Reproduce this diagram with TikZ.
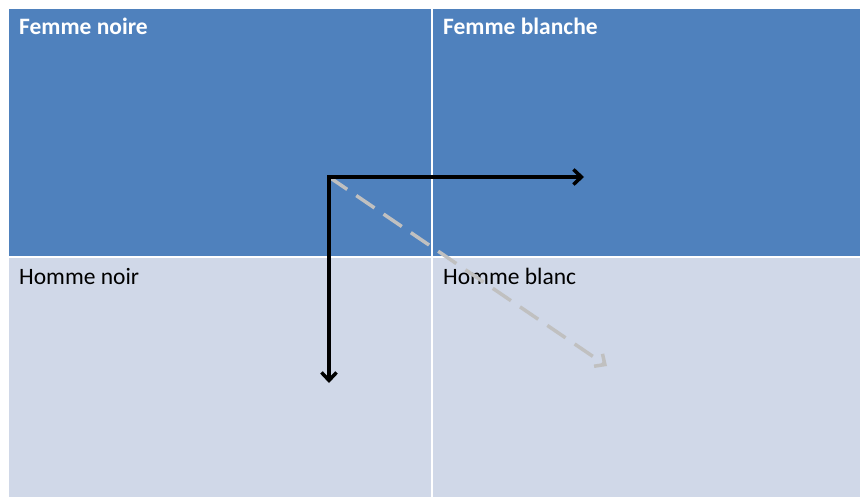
\documentclass[tikz,border=0pt]{standalone}
\usepackage{fontspec}
\setmainfont{Carlito}
\usetikzlibrary{arrows.meta}
\definecolor{darkcell}{HTML}{4F81BD}
\definecolor{lightcell}{HTML}{D0D8E8}
\definecolor{shiftgray}{HTML}{C0C0C0}
\tikzset{%
  cell/.style      = {shape=rectangle, draw=none, inner sep=0pt, outer sep=0pt,%
                      anchor=north west},%
  topcell/.style   = {cell, fill=darkcell},%
  lowcell/.style   = {cell, fill=lightcell},%
  title/.style     = {anchor=base west, inner sep=0pt, font=\fontsize{23.5}{28}\selectfont},%
  move/.style      = {line width=3.5pt, -{Straight Barb[length=8pt,width=15pt]}}%
}
\begin{document}
\begin{tikzpicture}[x=1pt,y=-1pt]
	\useasboundingbox (0,0) rectangle (860,497);
	% quadrants
	\node [topcell, minimum width=422pt, minimum height=247pt] (fn) at (9,9) {};
	\node [topcell, minimum width=427pt, minimum height=247pt] (fb) at (433,9) {};
	\node [lowcell, minimum width=422pt, minimum height=239pt] (hn) at (9,258) {};
	\node [lowcell, minimum width=427pt, minimum height=239pt] (hb) at (433,258) {};
	% labels
	\node [title, text=white, font=\fontsize{23.5}{28}\selectfont\bfseries] (lfn) at (19,35) {Femme noire};
	\node [title, text=white, font=\fontsize{23.5}{28}\selectfont\bfseries] (lfb) at (443,35) {Femme blanche};
	\node [title] (lhn) at (19,285) {Homme noir};
	\node [title] (lhb) at (443,285) {Homme blanc};
	% arrows
	\coordinate (o) at (329,177);
	\coordinate (right) at (584,177);
	\coordinate (down) at (329,383);
	\coordinate (diag) at (607,366);
	\draw [move, shiftgray, dash pattern=on 22pt off 11pt] (o) -- (diag);
	\draw [move, line cap=rect] (o) -- (right);
	\draw [move] (o) -- (down);
\end{tikzpicture}
\end{document}
